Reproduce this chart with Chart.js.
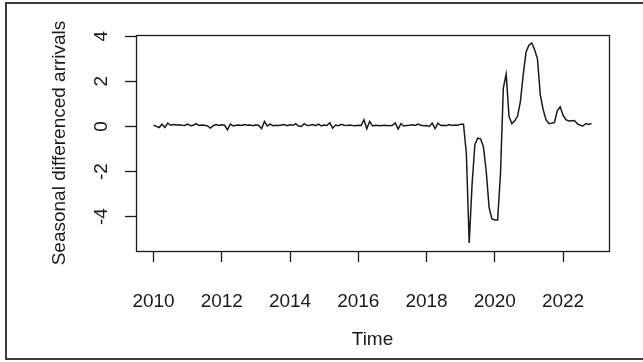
<!DOCTYPE html>
<html>
<head>
<meta charset="utf-8">
<script src="https://cdn.jsdelivr.net/npm/chart.js@4/dist/chart.umd.min.js"></script>
<style>
  html, body { margin: 0; padding: 0; background: #ffffff; }
  #c { display: block; }
</style>
</head>
<body>
<canvas id="c" width="643" height="362"></canvas>
<script>
// ---- data (monthly series, Jan 2010 onwards) ----
const startYear = 2010;
const startMonth = 1;
const arrivals = [
  0.05, 0.0, -0.05, 0.1, -0.05, 0.15, 0.05, 0.08, 0.06, 0.07,
  0.05, 0.04, 0.1, 0.03, 0.05, 0.12, 0.04, 0.06, 0.05, 0.02,
  -0.07, 0.03, 0.08, 0.04, 0.07, 0.05, -0.15, 0.1, 0.02, 0.05,
  0.06, 0.04, 0.08, 0.05, 0.06, 0.03, 0.07, 0.04, -0.1, 0.22,
  0.02, 0.1, 0.03, 0.05, 0.04, 0.06, 0.08, 0.03, 0.07, 0.05,
  0.12, 0.02, 0.0, 0.12, 0.04, 0.05, 0.08, 0.03, 0.1, 0.02,
  0.06, 0.04, 0.16, -0.08, 0.06, 0.03, 0.09, 0.05, 0.04, 0.06,
  0.04, 0.03, 0.05, 0.04, 0.3, -0.1, 0.22, 0.02, 0.05, 0.04,
  0.03, 0.05, 0.04, 0.03, 0.05, 0.15, -0.12, 0.12, 0.02, 0.04,
  0.05, 0.07, 0.04, 0.1, 0.05, 0.03, 0.04, 0.0, 0.15, -0.1,
  0.14, 0.04, 0.05, 0.03, 0.08, 0.04, 0.06, 0.05, 0.1, 0.1,
  -1.2, -5.17, -2.6, -0.8, -0.52, -0.55, -0.9, -2.0, -3.6, -4.1,
  -4.15, -4.15, -2.1, 1.7, 2.32, 0.45, 0.12, 0.25, 0.45, 1.1,
  2.3, 3.3, 3.6, 3.7, 3.4, 3.0, 1.4, 0.75, 0.3, 0.13,
  0.14, 0.18, 0.7, 0.87, 0.5, 0.3, 0.24, 0.25, 0.26, 0.12,
  0.05, 0.02, 0.13, 0.09, 0.13
];
const xTickValues = [2010, 2012, 2014, 2016, 2018, 2020, 2022];
const yTickValues = [-4, -2, 0, 2, 4];
const xTitle = 'Time';
const yTitle = 'Seasonal differenced arrivals';

// ---- build points ----
const points = arrivals.map((v, i) => ({ x: startYear + (startMonth - 1 + i) / 12, y: v }));

// R-style 4% axis extension
const xs = points.map(p => p.x), ys = points.map(p => p.y);
const xMin = Math.min(...xs), xMax = Math.max(...xs);
const yMin = Math.min(...ys), yMax = Math.max(...ys);
const xPad = (xMax - xMin) * 0.04, yPad = (yMax - yMin) * 0.04;

const FONT = "'Liberation Sans', Arial, Helvetica, sans-serif";
const INK = '#1a1a1a';

const framePlugin = {
  id: 'frames',
  beforeDraw(chart) {
    const ctx = chart.ctx;
    ctx.save();
    ctx.fillStyle = '#ffffff';
    ctx.fillRect(0, 0, chart.width, chart.height);
    ctx.strokeStyle = '#3a3a3a';
    ctx.lineWidth = 2;
    ctx.strokeRect(6, 3, 700, 356);
    ctx.restore();
  },
  afterDraw(chart) {
    const a = chart.chartArea;
    const ctx = chart.ctx;
    ctx.save();
    ctx.strokeStyle = INK;
    ctx.lineWidth = 1.3;
    ctx.strokeRect(Math.round(a.left) + 0.5, Math.round(a.top) + 0.5,
                   Math.round(a.right - a.left), Math.round(a.bottom - a.top));
    ctx.restore();
  }
};

new Chart(document.getElementById('c'), {
  type: 'line',
  data: {
    datasets: [{
      data: points,
      borderColor: INK,
      borderWidth: 1.5,
      pointRadius: 0,
      fill: false,
      tension: 0
    }]
  },
  options: {
    responsive: false,
    animation: false,
    devicePixelRatio: 1,
    layout: { padding: { left: 0, right: 34, top: 35, bottom: 0 } },
    plugins: { legend: { display: false }, tooltip: { enabled: false } },
    scales: {
      x: {
        type: 'linear',
        min: xMin - xPad,
        max: xMax + xPad,
        afterBuildTicks(axis) { axis.ticks = xTickValues.map(v => ({ value: v })); },
        afterFit(axis) { axis.height = 111; },
        border: { display: false },
        grid: { display: true, drawOnChartArea: false, drawTicks: true, tickLength: 11, color: INK, tickWidth: 1.3 },
        ticks: {
          autoSkip: false, maxRotation: 0, minRotation: 0,
          padding: 28,
          color: INK,
          font: { family: FONT, size: 19 },
          callback: v => String(v)
        },
        title: {
          display: true, text: xTitle, color: INK,
          font: { family: FONT, size: 19 },
          padding: { top: 0, bottom: 10.6 }
        }
      },
      y: {
        type: 'linear',
        min: yMin - yPad,
        max: yMax + yPad,
        afterBuildTicks(axis) { axis.ticks = yTickValues.map(v => ({ value: v })); },
        afterFit(axis) { axis.width = 136; },
        border: { display: false },
        grid: { display: true, drawOnChartArea: false, drawTicks: true, tickLength: 11, color: INK, tickWidth: 1.3 },
        ticks: {
          autoSkip: false, minRotation: 90, maxRotation: 90,
          crossAlign: 'center',
          padding: 15,
          color: INK,
          font: { family: FONT, size: 19 },
          callback: v => String(v)
        },
        title: {
          display: true, text: yTitle, color: INK,
          font: { family: FONT, size: 19 },
          padding: { top: 48.6, bottom: 0 }
        }
      }
    }
  },
  plugins: [framePlugin]
});
</script>
</body>
</html>
